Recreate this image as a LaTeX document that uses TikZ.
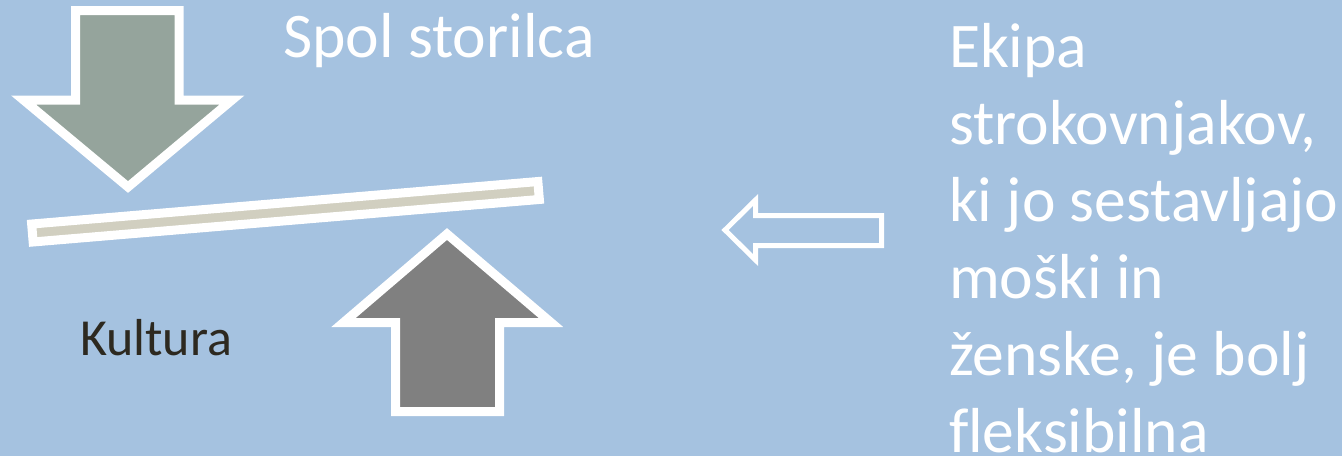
\documentclass[tikz,border=0pt]{standalone}
\usepackage{fontspec}
\setmainfont[Ligatures=NoCommon]{Carlito}
\definecolor{bgblue}{RGB}{165,194,224}
\definecolor{downgray}{RGB}{149,164,156}
\definecolor{upgray}{RGB}{128,128,128}
\definecolor{barbeige}{RGB}{209,207,192}
\definecolor{darktext}{RGB}{45,41,32}
\begin{document}
\begin{tikzpicture}[x=0.5pt,y=-0.5pt,
  bigarrow/.style={draw=white,line width=4.5pt,miter limit=10},
  outlinearrow/.style={draw=white,line width=2.5pt,miter limit=10},
  lbl/.style={inner sep=0pt,outer sep=0pt,text=white,font=\fontsize{31.8}{38.5}\selectfont}]
\useasboundingbox (0,0) rectangle (1342,456);
\fill[bgblue] (0,0) rectangle (1342,456);
% down arrow
\draw[bigarrow,fill=downgray] (75.5,10.5) -- (179,10.5) -- (179,100) -- (232,100) -- (128,187) -- (23.5,100) -- (75.5,100) -- cycle;
% up arrow
\draw[bigarrow,fill=upgray] (395.5,411.5) -- (499.5,411.5) -- (499.5,322.5) -- (551,322.5) -- (447,234) -- (343.5,322.5) -- (395.5,322.5) -- cycle;
% bar
\node[bigarrow,fill=barbeige,rectangle,inner sep=0pt,minimum width=254pt,minimum height=9pt,rotate=4.8] (bar) at (285.5,211.75) {};
% outline arrow pointing left
\draw[outlinearrow] (725,230) -- (755.5,200) -- (755.5,215.5) -- (881.5,215.5) -- (881.5,245.5) -- (755.5,245.5) -- (755.5,260) -- cycle;
% texts
\node[lbl,anchor=base west] (spol) at (283,57) {Spol storilca};
\node[lbl,anchor=base west,text=darktext,font=\fontsize{26}{30}\selectfont] (kult) at (80,355) {Kultura};
\node[lbl,anchor=base west,align=left] (ekipa) at (949,452) {Ekipa\\strokovnjakov,\\ki jo sestavljajo\\moški in\\ženske, je bolj\\fleksibilna};
\end{tikzpicture}
\end{document}
